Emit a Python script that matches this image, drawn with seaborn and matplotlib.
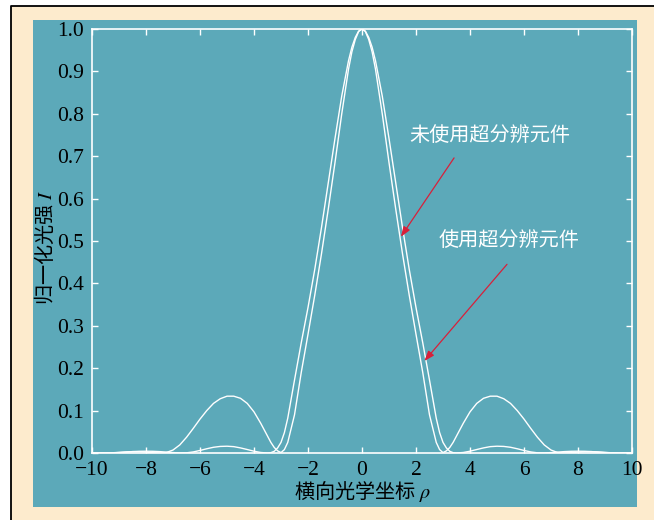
import numpy as np
import pandas as pd
import seaborn as sns
import matplotlib
matplotlib.use("Agg")
import matplotlib.pyplot as plt
from matplotlib.patches import Rectangle
from matplotlib.lines import Line2D

# transverse optical coordinate rho (finer near the peak and the first minima)
rho = [-10.0, -9.75, -9.5, -9.25, -9.0, -8.75, -8.5, -8.25, -8.0, -7.75,
       -7.5, -7.25, -7.0, -6.75, -6.5, -6.25, -6.0, -5.75, -5.5, -5.25,
       -5.0, -4.75, -4.5, -4.25, -4.0, -3.75, -3.5, -3.375, -3.25, -3.125,
       -3.0, -2.875, -2.75, -2.5, -2.25, -2.0, -1.75, -1.5, -1.25, -1.0,
       -0.75, -0.5, -0.375, -0.25, -0.125,
       0.0,
       0.125, 0.25, 0.375, 0.5, 0.75, 1.0, 1.25, 1.5, 1.75, 2.0,
       2.25, 2.5, 2.75, 2.875, 3.0, 3.125, 3.25, 3.375, 3.5, 3.75,
       4.0, 4.25, 4.5, 4.75, 5.0, 5.25, 5.5, 5.75, 6.0, 6.25,
       6.5, 6.75, 7.0, 7.25, 7.5, 7.75, 8.0, 8.25, 8.5, 8.75,
       9.0, 9.25, 9.5, 9.75, 10.0]

# normalised intensity without the super-resolution element
I_plain = [0.0005, 0.0002, 0.0, 0.0003, 0.0011, 0.0022, 0.0033, 0.0040, 0.0042, 0.0040,
           0.0033, 0.0022, 0.0010, 0.0002, 0.0004, 0.0025, 0.0060, 0.0100, 0.0135, 0.0155,
           0.0160, 0.0150, 0.0120, 0.0082, 0.0042, 0.0012, 0.0, 0.0008, 0.004, 0.012,
           0.025, 0.048, 0.082, 0.172, 0.260, 0.343, 0.433, 0.532, 0.637, 0.742,
           0.842, 0.925, 0.957, 0.980, 0.995,
           1.0,
           0.995, 0.980, 0.957, 0.925, 0.842, 0.742, 0.637, 0.532, 0.433, 0.343,
           0.260, 0.172, 0.082, 0.048, 0.025, 0.012, 0.004, 0.0008, 0.0, 0.0012,
           0.0042, 0.0082, 0.0120, 0.0150, 0.0160, 0.0155, 0.0135, 0.0100, 0.0060, 0.0025,
           0.0004, 0.0002, 0.0010, 0.0022, 0.0033, 0.0040, 0.0042, 0.0040, 0.0033, 0.0022,
           0.0011, 0.0003, 0.0, 0.0002, 0.0005]

# normalised intensity with the super-resolution element
I_super = [0.0008, 0.0003, 0.0001, 0.0005, 0.0014, 0.0025, 0.0032, 0.0030, 0.0020, 0.0008,
           0.0, 0.001, 0.007, 0.019, 0.037, 0.058, 0.080, 0.100, 0.117, 0.128,
           0.134, 0.134, 0.129, 0.117, 0.097, 0.070, 0.040, 0.025, 0.013, 0.005,
           0.001, 0.008, 0.025, 0.090, 0.190, 0.280, 0.372, 0.470, 0.575, 0.685,
           0.800, 0.905, 0.946, 0.975, 0.994,
           1.0,
           0.994, 0.975, 0.946, 0.905, 0.800, 0.685, 0.575, 0.470, 0.372, 0.280,
           0.190, 0.090, 0.025, 0.008, 0.001, 0.005, 0.013, 0.025, 0.040, 0.070,
           0.097, 0.117, 0.129, 0.134, 0.134, 0.128, 0.117, 0.100, 0.080, 0.058,
           0.037, 0.019, 0.007, 0.001, 0.0, 0.0008, 0.0020, 0.0030, 0.0032, 0.0025,
           0.0014, 0.0005, 0.0001, 0.0003, 0.0008]

x_ticks = [-10, -8, -6, -4, -2, 0, 2, 4, 6, 8, 10]
y_ticks = [0.0, 0.1, 0.2, 0.3, 0.4, 0.5, 0.6, 0.7, 0.8, 0.9, 1.0]

teal = "#5CA9B9"
cream = "#FDEBCD"
arrow_red = "#D8203A"

df = pd.DataFrame({
    "rho": rho + rho,
    "I": I_plain + I_super,
    "curve": ["plain"] * len(rho) + ["super"] * len(rho),
})

sns.set_style("ticks")
plt.rcParams["font.family"] = ["Liberation Serif", "Noto Sans CJK SC"]
plt.rcParams["mathtext.fontset"] = "stix"

W, H = 654, 520
fig = plt.figure(figsize=(W / 100, H / 100), dpi=100, facecolor="white")
fig.patches.append(Rectangle((11 / W, 0), 1 - 11 / W, 514 / H, transform=fig.transFigure,
                             facecolor=cream, edgecolor="none", zorder=-3))
fig.lines.append(Line2D([11 / W, 11 / W, 1], [0, 514 / H, 514 / H], transform=fig.transFigure,
                        color="black", lw=1.3, zorder=-2))
fig.patches.append(Rectangle((33 / W, 13 / H), (637 - 33) / W, (507 - 20) / H, transform=fig.transFigure,
                             facecolor=teal, edgecolor="none", zorder=-1))

ax = fig.add_axes([92 / W, 67 / H, 540 / W, 424 / H])
ax.set_zorder(1)
ax.set_facecolor(teal)

sns.lineplot(data=df, x="rho", y="I", hue="curve", palette=["white", "white"],
             legend=False, lw=1.0, ax=ax)

ax.set_xlim(-10, 10)
ax.set_ylim(0, 1)
ax.set_xticks(x_ticks)
ax.set_yticks(y_ticks)
ax.set_yticklabels([f"{v:.1f}" for v in y_ticks])
for s in ax.spines.values():
    s.set_color("white")
    s.set_linewidth(1.2)
ax.tick_params(direction="in", color="white", length=4, width=1, top=True, right=True,
               labelcolor="black", labelsize=15.5, pad=6)

ax.set_xlabel("横向光学坐标 $\\rho$", family="Noto Sans CJK SC", fontsize=14.5, color="black")
ax.set_ylabel("归一化光强 $I$", family="Noto Sans CJK SC", fontsize=14.5, color="black")
ax.xaxis.label.set_va("center")
ax.yaxis.label.set_va("center")
ax.xaxis.set_label_coords(0.5, (453 - 492) / 424)
ax.yaxis.set_label_coords((45 - 92) / 540, (453 - 248) / 424)

ax.text(1.74, 0.748, "未使用超分辨元件", color="white", family="Noto Sans CJK SC",
        fontsize=14.5, va="center", ha="left")
ax.text(2.85, 0.502, "使用超分辨元件", color="white", family="Noto Sans CJK SC",
        fontsize=14.5, va="center", ha="left")

arrow = dict(arrowstyle="-|>,head_length=0.6,head_width=0.22", color=arrow_red, lw=0.9,
             shrinkA=0, shrinkB=0)
ax.annotate("", xy=(1.44, 0.51), xytext=(3.41, 0.696), arrowprops=arrow)
ax.annotate("", xy=(2.31, 0.217), xytext=(5.37, 0.445), arrowprops=arrow)

fig.savefig("out.png", dpi=100, facecolor=fig.get_facecolor())
